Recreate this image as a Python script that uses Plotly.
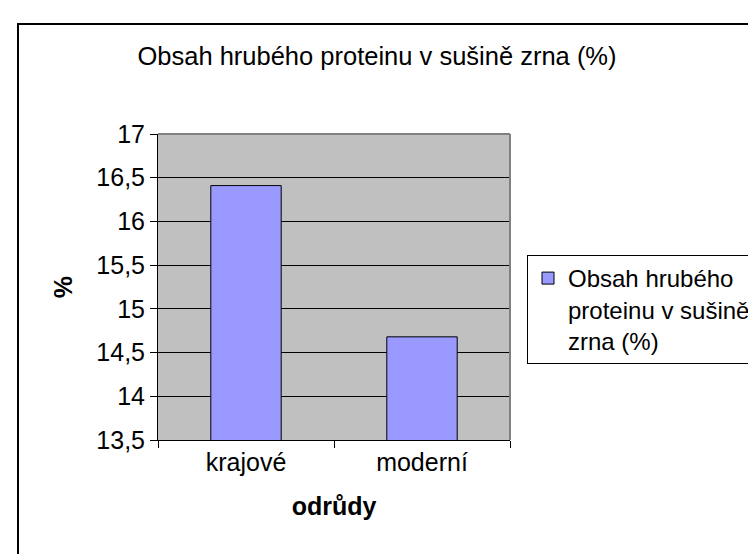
import plotly.graph_objects as go

categories = ["krajové", "moderní"]
values = [16.41, 14.68]
series_name = "Obsah hrubého<br>proteinu v sušině<br>zrna (%)"
title_text = "Obsah hrubého proteinu v sušině zrna (%)"
x_title = "odrůdy"
y_title = "%"

FONT = "Liberation Sans, Arial, sans-serif"
FS = 25

fig = go.Figure(
    go.Bar(
        x=categories,
        y=values,
        name=series_name,
        width=0.4,
        marker=dict(color="#9999FF", line=dict(color="black", width=1)),
        showlegend=True,
    )
)

W, H = 756, 554
L, R, T, B = 150, 254, 126, 122
pw, ph = W - L - R, H - T - B

def px_x(x):
    return (x - L) / pw

def px_y(y):
    return (H - B - y) / ph

fig.update_layout(
    width=W,
    height=H,
    margin=dict(l=L, r=R, t=T, b=B, autoexpand=False),
    paper_bgcolor="white",
    plot_bgcolor="#C0C0C0",
    separators=", ",
    font=dict(family=FONT, size=FS, color="black"),
    title=dict(
        text=title_text,
        x=369 / W,
        xanchor="center",
        y=1 - 48 / H,
        yanchor="middle",
        font=dict(size=25.5, color="black"),
    ),
    showlegend=True,
    legend=dict(
        x=px_x(519),
        xanchor="left",
        y=px_y(247),
        yanchor="top",
        bordercolor="black",
        borderwidth=1,
        bgcolor="white",
        font=dict(size=24, color="black"),
        valign="top",
        tracegroupgap=0,
    ),
    xaxis=dict(
        type="category",
        range=[-0.5, 1.5],
        tickson="boundaries",
        ticks="outside",
        ticklen=7,
        tickcolor="black",
        showline=True,
        linecolor="black",
        linewidth=1,
        showgrid=False,
        tickfont=dict(size=FS),
        title=dict(text="<b>" + x_title + "</b>", font=dict(size=FS), standoff=22),
    ),
    yaxis=dict(
        range=[13.5, 17],
        tick0=13.5,
        dtick=0.5,
        ticks="outside",
        ticklen=7,
        tickcolor="black",
        showline=True,
        linecolor="black",
        linewidth=1,
        showgrid=True,
        gridcolor="black",
        gridwidth=1,
        zeroline=False,
        tickfont=dict(size=FS),
        title=dict(text="<b>" + y_title + "</b>", font=dict(size=FS), standoff=16),
    ),
    bargap=0.6,
    shapes=[
        dict(type="line", xref="paper", yref="paper", x0=0, x1=1, y0=1, y1=1,
             line=dict(color="#808080", width=2), layer="above"),
        dict(type="line", xref="paper", yref="paper", x0=1, x1=1, y0=0, y1=1,
             line=dict(color="#808080", width=2), layer="above"),
        dict(type="rect", xref="paper", yref="paper",
             x0=px_x(10), x1=px_x(800), y0=px_y(16), y1=px_y(600),
             line=dict(color="black", width=2), fillcolor="rgba(0,0,0,0)", layer="above"),
    ],
)

fig.write_html("out.html")
